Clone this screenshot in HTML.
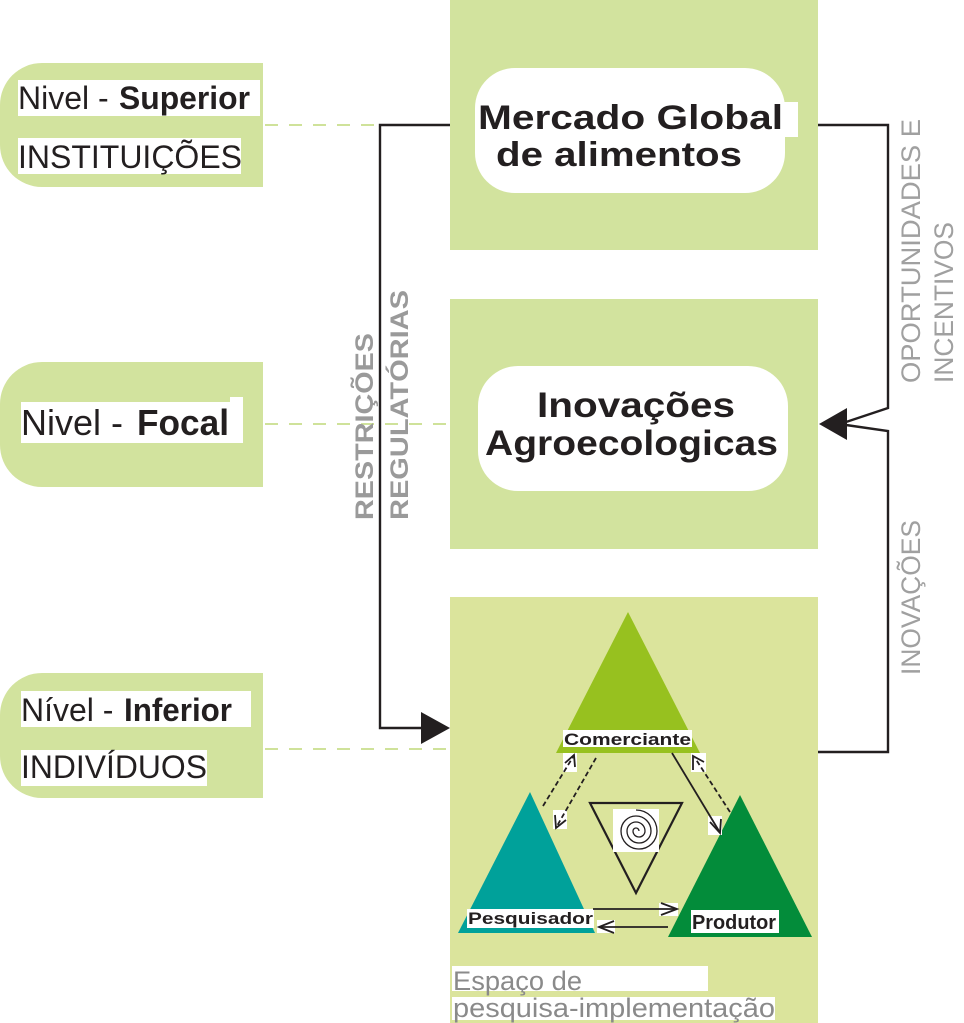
<!DOCTYPE html>
<html>
<head>
<meta charset="utf-8">
<style>
  html,body{margin:0;padding:0;background:#fff;}
  svg{display:block;}
  text{font-family:"Liberation Sans", Arial, sans-serif;}
</style>
</head>
<body>
<svg width="964" height="1023" viewBox="0 0 964 1023" xmlns="http://www.w3.org/2000/svg">
  <!-- big green boxes -->
  <rect x="450" y="0" width="368" height="250" fill="#d2e39e"/>
  <rect x="450" y="299" width="368" height="250" fill="#d2e39e"/>
  <rect x="450" y="597" width="368" height="426" fill="#dbe49c"/>

  <!-- left boxes -->
  <path d="M263 63 H42 A42 42 0 0 0 0 105 V145 A42 42 0 0 0 42 187 H263 Z" fill="#d2e39e"/>
  <path d="M263 362 H42 A42 42 0 0 0 0 404 V445 A42 42 0 0 0 42 487 H263 Z" fill="#d2e39e"/>
  <path d="M263 673 H42 A42 42 0 0 0 0 715 V756 A42 42 0 0 0 42 798 H263 Z" fill="#d2e39e"/>

  <!-- dashed light green lines -->
  <g stroke="#cfe29a" stroke-width="2" stroke-dasharray="13 11" fill="none">
    <line x1="265" y1="125" x2="380" y2="125"/>
    <line x1="265" y1="424" x2="450" y2="424"/>
    <line x1="265" y1="749" x2="450" y2="749"/>
  </g>

  <!-- left texts -->
  <rect x="18" y="80" width="242" height="36" fill="#fff"/>
  <text x="18" y="109" font-size="32" fill="#231f20">Nivel -</text>
  <text x="119" y="109" font-size="32" font-weight="bold" fill="#231f20" textLength="131" lengthAdjust="spacingAndGlyphs">Superior</text>
  <rect x="18" y="138" width="223" height="36" fill="#fff"/>
  <text x="18" y="168" font-size="32" fill="#231f20" textLength="224" lengthAdjust="spacingAndGlyphs">INSTITUIÇÕES</text>

  <rect x="21" y="402" width="222" height="41" fill="#fff"/>
  <rect x="230" y="397" width="13" height="46" fill="#fff"/>
  <text x="21" y="435" font-size="36" fill="#231f20">Nivel -</text>
  <text x="137" y="435" font-size="36" font-weight="bold" fill="#231f20" textLength="92" lengthAdjust="spacingAndGlyphs">Focal</text>

  <rect x="21" y="691" width="230" height="36" fill="#fff"/>
  <text x="21" y="721" font-size="32" fill="#231f20">Nível -</text>
  <text x="124" y="721" font-size="32" font-weight="bold" fill="#231f20" textLength="108" lengthAdjust="spacingAndGlyphs">Inferior</text>
  <rect x="21" y="750" width="186" height="36" fill="#fff"/>
  <text x="21" y="778" font-size="32" fill="#231f20" textLength="186" lengthAdjust="spacingAndGlyphs">INDIVÍDUOS</text>

  <!-- white rounded boxes -->
  <rect x="475" y="68" width="310" height="125" rx="40" ry="40" fill="#fff"/>
  <rect x="478" y="102" width="320" height="35" fill="#fff"/>
  <text x="478" y="129" font-size="34" font-weight="bold" fill="#231f20" textLength="305" lengthAdjust="spacingAndGlyphs">Mercado Global</text>
  <text x="496" y="166" font-size="34" font-weight="bold" fill="#231f20" textLength="246" lengthAdjust="spacingAndGlyphs">de alimentos</text>

  <rect x="478" y="366" width="310" height="125" rx="40" ry="40" fill="#fff"/>
  <text x="537" y="417" font-size="35" font-weight="bold" fill="#231f20" textLength="198" lengthAdjust="spacingAndGlyphs">Inovações</text>
  <text x="485" y="455" font-size="35" font-weight="bold" fill="#231f20" textLength="293" lengthAdjust="spacingAndGlyphs">Agroecologicas</text>

  <!-- left black connector -->
  <polyline points="450,125 380,125 380,728 423,728" fill="none" stroke="#231f20" stroke-width="2.4"/>
  <polygon points="421,712 450,728 421,744" fill="#231f20"/>

  <!-- right black connector -->
  <polyline points="818,125 888,125 888,408 846,422" fill="none" stroke="#231f20" stroke-width="2.4" stroke-linejoin="miter"/>
  <polyline points="846,425 888,431 888,752 818,752" fill="none" stroke="#231f20" stroke-width="2.4"/>
  <polygon points="819,424 847,408 847,440" fill="#231f20"/>

  <!-- rotated labels -->
  <text transform="translate(373,520) rotate(-90)" font-size="25" font-weight="bold" fill="#9a9a9a" textLength="187" lengthAdjust="spacingAndGlyphs">RESTRIÇÕES</text>
  <text transform="translate(408,520) rotate(-90)" font-size="25" font-weight="bold" fill="#9a9a9a" textLength="230" lengthAdjust="spacingAndGlyphs">REGULATÓRIAS</text>

  <text transform="translate(920,383) rotate(-90)" font-size="27" fill="#a0a0a0" textLength="264" lengthAdjust="spacingAndGlyphs">OPORTUNIDADES E</text>
  <text transform="translate(953,383) rotate(-90)" font-size="27" fill="#a0a0a0" textLength="161" lengthAdjust="spacingAndGlyphs">INCENTIVOS</text>
  <text transform="translate(920,675) rotate(-90)" font-size="27" fill="#a0a0a0" textLength="155" lengthAdjust="spacingAndGlyphs">INOVAÇÕES</text>

  <!-- triangles -->
  <polygon points="628,612 700,753 556,753" fill="#97c11f"/>
  <polygon points="530,792 595,933 458,933" fill="#00a19a"/>
  <polygon points="740,795 812,937 668,937" fill="#038c3a"/>

  <!-- inverted triangle with spiral -->
  <polygon points="590,803 682,803 636,893" fill="none" stroke="#231f20" stroke-width="2.2" stroke-linejoin="miter"/>
  <rect x="613" y="809" width="46" height="43" fill="#fff"/>
  <path d="M639 831 A3 3 0 0 0 633 831 A6 6 0 0 0 645 831 A9 9 0 0 0 627 831 A12 12 0 0 0 651 831 A15 15 0 0 0 621 831 A18 18 0 0 0 657 831 A21 21 0 0 0 636 810" fill="none" stroke="#231f20" stroke-width="1.3"/>

  <!-- labels in triangles -->
  <rect x="563" y="730" width="129" height="17" fill="#fff"/>
  <text x="564" y="745" font-size="17" font-weight="bold" fill="#231f20" textLength="127" lengthAdjust="spacingAndGlyphs">Comerciante</text>
  <rect x="467" y="909" width="127" height="19" fill="#fff"/>
  <text x="468" y="924" font-size="17" font-weight="bold" fill="#231f20" textLength="125" lengthAdjust="spacingAndGlyphs">Pesquisador</text>
  <rect x="691" y="910" width="88" height="23" fill="#fff"/>
  <text x="692" y="929" font-size="20" font-weight="bold" fill="#231f20" textLength="84" lengthAdjust="spacingAndGlyphs">Produtor</text>

  <!-- arrow head backgrounds -->
  <g fill="#fff">
    <rect x="563" y="753" width="14" height="19"/>
    <rect x="553" y="810" width="14" height="19"/>
    <rect x="708" y="816" width="14" height="19"/>
    <rect x="691" y="753" width="15" height="19"/>
    <rect x="659" y="903" width="19" height="13"/>
    <rect x="597" y="920" width="18" height="13"/>
  </g>

  <!-- diagonal arrows -->
  <g fill="none" stroke="#231f20" stroke-width="1.8">
    <line x1="543" y1="806" x2="573" y2="757" stroke-dasharray="5 3"/>
    <polyline points="565,763 574,755 575,767"/>
    <line x1="596" y1="758" x2="557" y2="826" stroke-dasharray="5 3"/>
    <polyline points="555,815 556,828 566,820"/>
    <line x1="672" y1="753" x2="719" y2="831"/>
    <polyline points="710,822 720,833 721,819"/>
    <line x1="730" y1="812" x2="695" y2="758" stroke-dasharray="5 3"/>
    <polyline points="693,770 693,756 704,762"/>
    <line x1="593" y1="909" x2="676" y2="909"/>
    <polyline points="661,903 677,909 661,915"/>
    <line x1="668" y1="927" x2="600" y2="927"/>
    <polyline points="614,921 599,927 614,933"/>
  </g>

  <!-- Espaço text -->
  <rect x="452" y="966" width="256" height="25" fill="#fff"/>
  <text x="453" y="990" font-size="27" fill="#8a8a8a" textLength="129" lengthAdjust="spacingAndGlyphs">Espaço de</text>
  <rect x="452" y="997" width="323" height="23" fill="#fff"/>
  <text x="453" y="1017" font-size="27" fill="#8a8a8a" textLength="322" lengthAdjust="spacingAndGlyphs">pesquisa-implementação</text>
</svg>
</body>
</html>
